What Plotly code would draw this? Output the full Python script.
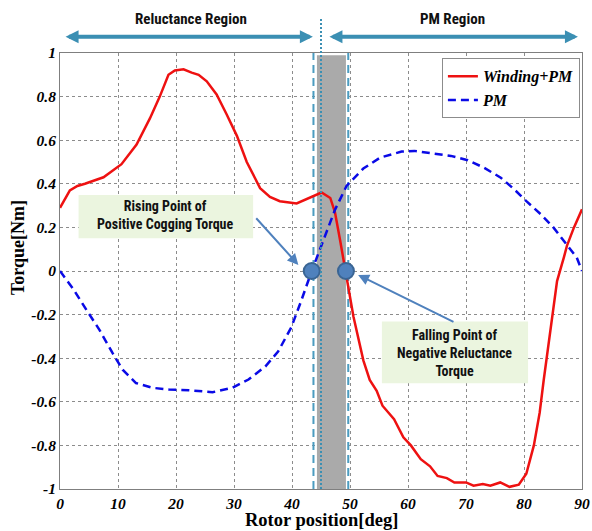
import plotly.graph_objects as go

# Torque vs rotor position
x_winding_pm = [0, 1.7, 3.0, 4.3, 7.5, 10.6, 13.2, 15.5, 17.2, 18.7, 19.8, 21.3, 22.7, 23.9,
                25.3, 27.0, 28.7, 30.5, 32.2, 34.5, 36.2, 37.9, 40.8, 43.1, 45.1, 46.6,
                47.4, 48.3, 49.1, 49.7, 50.6, 52.3, 53.4, 54.6, 55.6, 57.6, 59.2, 60.5,
                62.2, 63.8, 65.1, 66.7, 68.0, 70.0, 71.3, 72.9, 74.2, 75.9, 77.5, 79.1,
                80.4, 81.7, 82.7, 83.4, 84.5, 85.7, 86.9, 87.4, 88.6, 90.0]
y_winding_pm = [0.29, 0.37, 0.39, 0.40, 0.43, 0.49, 0.58, 0.70, 0.80, 0.90, 0.92, 0.925, 0.91, 0.90,
                0.87, 0.81, 0.72, 0.62, 0.50, 0.38, 0.34, 0.32, 0.31, 0.335, 0.36, 0.335,
                0.27, 0.14, 0.02, -0.07, -0.21, -0.41, -0.50, -0.55, -0.618, -0.68, -0.763, -0.80,
                -0.863, -0.896, -0.94, -0.95, -0.97, -0.97, -0.985, -0.977, -0.985, -0.97, -0.99, -0.98,
                -0.93, -0.80, -0.65, -0.50, -0.28, -0.046, 0.065, 0.115, 0.199, 0.283]

x_pm = [0, 2.3, 4.6, 6.8, 9.1, 10.8, 13.1, 16.0, 18.8, 22.2, 26.3, 29.7, 32.5, 35.4, 37.6,
        39.9, 41.6, 43.4, 45.4, 47.4, 49.4, 52.3, 55.2, 58.9, 61.1, 64.6, 67.4, 70.3,
        73.1, 76.0, 78.3, 80.5, 82.9, 85.1, 87.4, 89.1, 90.0]
y_pm = [0, -0.083, -0.18, -0.27, -0.378, -0.453, -0.514, -0.536, -0.544, -0.547, -0.556, -0.536,
        -0.498, -0.438, -0.37, -0.257, -0.136, 0.0, 0.14, 0.28, 0.39, 0.47, 0.52, 0.548, 0.551,
        0.539, 0.528, 0.508, 0.474, 0.428, 0.375, 0.318, 0.26, 0.199, 0.122, 0.061, 0.0]

# zero crossings of the PM and Winding+PM torque
crossing_x = [43.4, 49.3]
crossing_y = [0, 0]

x_ticks = [0, 10, 20, 30, 40, 50, 60, 70, 80, 90]
y_ticks = [1, 0.8, 0.6, 0.4, 0.2, 0, -0.2, -0.4, -0.6, -0.8, -1]
y_tick_text = ["1", "0.8", "0.6", "0.4", "0.2", "0", "-0.2", "-0.4", "-0.6", "-0.8", "-1"]

x_range = [0, 90]
y_range = [-1, 1]
region_boundary = 45
transition_band = [44.3, 49.3]
transition_edges = [43.7, 49.7]

SERIF = "Liberation Serif"
NARROW = "Liberation Sans Narrow, Arial Narrow, Roboto Condensed, DejaVu Sans Condensed, sans-serif"
TEAL = "#3b8fb3"
STEEL = "#4f81bd"
BOX_FILL = "#ebf5df"

fig = go.Figure()

fig.add_trace(go.Scatter(
    x=x_winding_pm, y=y_winding_pm, mode="lines", name="Winding+PM",
    line=dict(color="#ee1111", width=2.5),
))
fig.add_trace(go.Scatter(
    x=x_pm, y=y_pm, mode="lines", name="PM",
    line=dict(color="#0a0ae6", width=2.5, dash="8px,5px"),
))
fig.add_trace(go.Scatter(
    x=crossing_x, y=crossing_y, mode="markers", showlegend=False,
    marker=dict(size=16, color=STEEL, line=dict(color="#3a6594", width=2)),
))

# transition band between the two regions
fig.add_shape(type="rect", xref="x", yref="y", layer="between",
              x0=transition_band[0], x1=transition_band[1], y0=y_range[0], y1=0.99,
              fillcolor="#aaaaaa", line=dict(width=0))
for xe in transition_edges:
    fig.add_shape(type="line", xref="x", yref="y", layer="between",
                  x0=xe, x1=xe, y0=y_range[0], y1=y_range[1],
                  line=dict(color="#4b9cc0", width=2, dash="8px,5px"))

# region divider, extending above the plot
boundary_paper = (region_boundary - x_range[0]) / (x_range[1] - x_range[0])
fig.add_shape(type="line", xref="paper", yref="paper", layer="above",
              x0=boundary_paper, x1=boundary_paper, y0=0, y1=1.08,
              line=dict(color=TEAL, width=2, dash="2px,2px"))

# region arrows and labels above the plot
arrow_y = 1.037
for head, tail in [(43.6, 0.7), (89.3, 46.2)]:
    fig.add_annotation(x=head, y=arrow_y, xref="x", yref="paper",
                       ax=tail, ay=0, axref="x", ayref="pixel",
                       text="", showarrow=True, arrowside="end+start",
                       arrowhead=2, arrowsize=0.65, arrowwidth=4, arrowcolor=TEAL)
for label, xc in [("Reluctance Region", 22.6), ("PM Region", 67.6)]:
    fig.add_annotation(x=xc, y=1.078, xref="x", yref="paper", text=label,
                       showarrow=False, xanchor="center", yanchor="middle",
                       font=dict(family=NARROW, size=15, color="#111111", weight="bold"))

# callout boxes
fig.add_shape(type="rect", xref="x", yref="y", layer="above",
              x0=3.2, x1=33.3, y0=0.15, y1=0.349, fillcolor=BOX_FILL, line=dict(width=0))
fig.add_shape(type="rect", xref="x", yref="y", layer="above",
              x0=55.5, x1=80.7, y0=-0.515, y1=-0.232, fillcolor=BOX_FILL, line=dict(width=0))

callout_font = dict(family=NARROW, size=14, color="#111111", weight="bold")
fig.add_annotation(x=18.1, y=0.2575, xref="x", yref="y",
                   text="Rising Point of<br>Positive Cogging Torque", showarrow=False,
                   xanchor="center", yanchor="middle", align="center", font=callout_font)
fig.add_annotation(x=68.1, y=-0.376, xref="x", yref="y",
                   text="Falling Point of<br>Negative Reluctance<br>Torque", showarrow=False,
                   xanchor="center", yanchor="middle", align="center", font=callout_font)

fig.add_annotation(x=41.1, y=0.028, ax=33.6, ay=0.249, xref="x", yref="y",
                   axref="x", ayref="y", text="", showarrow=True,
                   arrowhead=2, arrowsize=1.1, arrowwidth=2, arrowcolor=STEEL)
fig.add_annotation(x=51.4, y=-0.018, ax=68.1, ay=-0.237, xref="x", yref="y",
                   axref="x", ayref="y", text="", showarrow=True,
                   arrowhead=2, arrowsize=1.1, arrowwidth=2, arrowcolor=STEEL)

# axis titles
fig.add_annotation(x=0.5, y=-0.070, xref="paper", yref="paper", text="Rotor position[deg]",
                   showarrow=False, xanchor="center", yanchor="middle",
                   font=dict(family=SERIF, size=18.5, color="#000000", weight="bold"))
fig.add_annotation(x=-0.0805, y=0.555, xref="paper", yref="paper", text="Torque[Nm]",
                   showarrow=False, xanchor="center", yanchor="middle", textangle=-90,
                   font=dict(family=SERIF, size=18, color="#000000", weight="bold"))

tick_font = dict(family=SERIF, size=15.5, color="#000000", weight="bold", style="italic")
fig.update_xaxes(range=x_range, tickvals=x_ticks, tickfont=tick_font, automargin=False,
                 showgrid=True, gridcolor="#8c8c8c", griddash="dot", gridwidth=1,
                 showline=True, linecolor="#7f7f7f", linewidth=1, mirror=True,
                 zeroline=False, ticks="", ticklabelstandoff=0)
fig.update_yaxes(range=y_range, tickvals=y_ticks, ticktext=y_tick_text, tickfont=tick_font,
                 automargin=False,
                 showgrid=True, gridcolor="#8c8c8c", griddash="dot", gridwidth=1,
                 showline=True, linecolor="#7f7f7f", linewidth=1, mirror=True,
                 zeroline=False, ticks="")

fig.update_layout(
    width=592, height=531,
    margin=dict(l=60, r=10, t=53, b=42),
    plot_bgcolor="white", paper_bgcolor="white",
    legend=dict(x=0.996, y=0.988, xanchor="right", yanchor="top",
                bgcolor="white", bordercolor="#8c8c8c", borderwidth=1,
                font=dict(family=SERIF, size=16, color="#000000", weight="bold", style="italic"),
                tracegroupgap=0, itemwidth=30),
    showlegend=True,
)

fig.write_html("out.html")
